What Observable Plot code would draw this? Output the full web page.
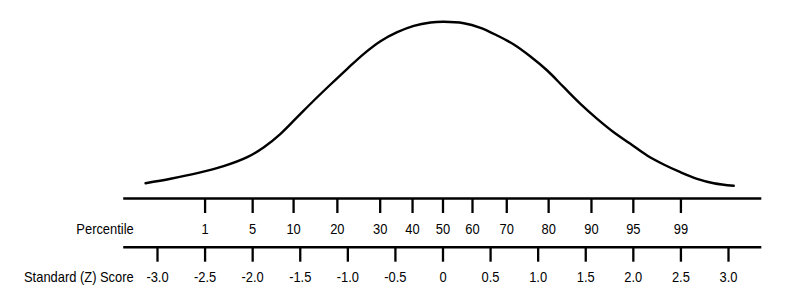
<!DOCTYPE html>
<html>
<head>
<meta charset="utf-8">
<script src="https://cdn.jsdelivr.net/npm/d3@7"></script>
<script src="https://cdn.jsdelivr.net/npm/@observablehq/plot@0.6"></script>
<style>
  html, body { margin: 0; padding: 0; background: #fff; }
  #chart svg { display: block; }
</style>
</head>
<body>
<div id="chart"></div>
<script>
// Bell curve: z position and height above the axis line
const curveZ = [-3.125, -2.862, -2.582, -2.306, -2.057, -1.882, -1.707, -1.532, -1.357, -1.182,
  -1.006, -0.832, -0.657, -0.481, -0.307, -0.131, 0.008, 0.218, 0.394, 0.569, 0.744, 0.919,
  1.095, 1.269, 1.444, 1.620, 1.794, 1.969, 2.145, 2.319, 2.495, 2.670, 2.845, 3.055];
const curveH = [15.3, 19.7, 25.3, 32.3, 41.3, 51.3, 64.7, 81.3, 98, 114,
  129.7, 144.7, 157.3, 166.3, 172.7, 176, 176.7, 175.3, 170.7, 163, 154, 142,
  128, 111.3, 94.7, 79.7, 66.3, 54.7, 43, 34, 26.3, 19.7, 15.3, 12.7];

// Percentile row: labels and their positions on the z scale, as drawn
const percentileLabels = ["1", "5", "10", "20", "30", "40", "50", "60", "70", "80", "90", "95", "99"];
const percentileZ = [-2.5, -2.0, -1.57, -1.11, -0.66, -0.32, 0, 0.31, 0.67, 1.11, 1.56, 2.0, 2.5];

// Standard (Z) score row
const zTicks = [-3, -2.5, -2, -1.5, -1, -0.5, 0, 0.5, 1, 1.5, 2, 2.5, 3];
const zLabels = ["-3.0", "-2.5", "-2.0", "-1.5", "-1.0", "-0.5", "0", "0.5", "1.0", "1.5", "2.0", "2.5", "3.0"];

// Row titles
const rowTitles = ["Percentile", "Standard (Z) Score"];

// layout (in y units: 0 is the upper axis line)
const lineExtent = [-3.355, 3.35];
const row1 = {line: 0, tickEnd: -15, label: -31};
const row2 = {line: -48.7, tickEnd: -63.7, label: -78.7};
const titleX = -3.25;

const curve = curveZ.map((z, i) => ({z, h: curveH[i]}));
const pct = percentileZ.map((z, i) => ({z, label: percentileLabels[i]}));
const zs = zTicks.map((z, i) => ({z, label: zLabels[i]}));

const font = "'Liberation Sans', Arial, sans-serif";
const fs = 15;
const squeeze = 0.86; // the reference lettering is horizontally condensed

const chart = Plot.plot({
  width: 810,
  height: 299,
  marginLeft: 157,
  marginRight: 82,
  marginTop: 0,
  marginBottom: 0,
  style: {fontFamily: font, fontSize: fs + "px", background: "#fff", color: "#000"},
  x: {domain: [-3, 3], axis: null},
  y: {domain: [-101, 198], axis: null},
  marks: [
    Plot.line(curve, {x: "z", y: "h", curve: "catmull-rom", stroke: "#000", strokeWidth: 2.4}),
    // row 1
    Plot.ruleY([row1.line], {x1: lineExtent[0], x2: lineExtent[1], stroke: "#000", strokeWidth: 2.5}),
    Plot.ruleX(pct, {x: "z", y1: row1.line, y2: row1.tickEnd, stroke: "#000", strokeWidth: 2.3}),
    Plot.text(pct, {x: "z", y: row1.label, text: "label", fill: "#000", fontSize: fs}),
    // row 2
    Plot.ruleY([row2.line], {x1: lineExtent[0], x2: lineExtent[1], stroke: "#000", strokeWidth: 2.5}),
    Plot.ruleX(zs, {x: "z", y1: row2.line, y2: row2.tickEnd, stroke: "#000", strokeWidth: 2.3}),
    Plot.text(zs, {x: "z", y: row2.label, text: "label", fill: "#000", fontSize: fs}),
    // row titles
    Plot.text([rowTitles[0]], {x: titleX, y: row1.label, text: d => d, textAnchor: "end", fill: "#000", fontSize: fs}),
    Plot.text([rowTitles[1]], {x: titleX, y: row2.label, text: d => d, textAnchor: "end", fill: "#000", fontSize: fs})
  ]
});

document.getElementById("chart").appendChild(chart);

// condense the lettering horizontally (glyphs squeezed, anchors unchanged)
chart.querySelectorAll("text").forEach(t => {
  const w = t.getComputedTextLength();
  if (w > 0) {
    t.setAttribute("textLength", (w * squeeze).toFixed(2));
    t.setAttribute("lengthAdjust", "spacingAndGlyphs");
  }
});
</script>
</body>
</html>
